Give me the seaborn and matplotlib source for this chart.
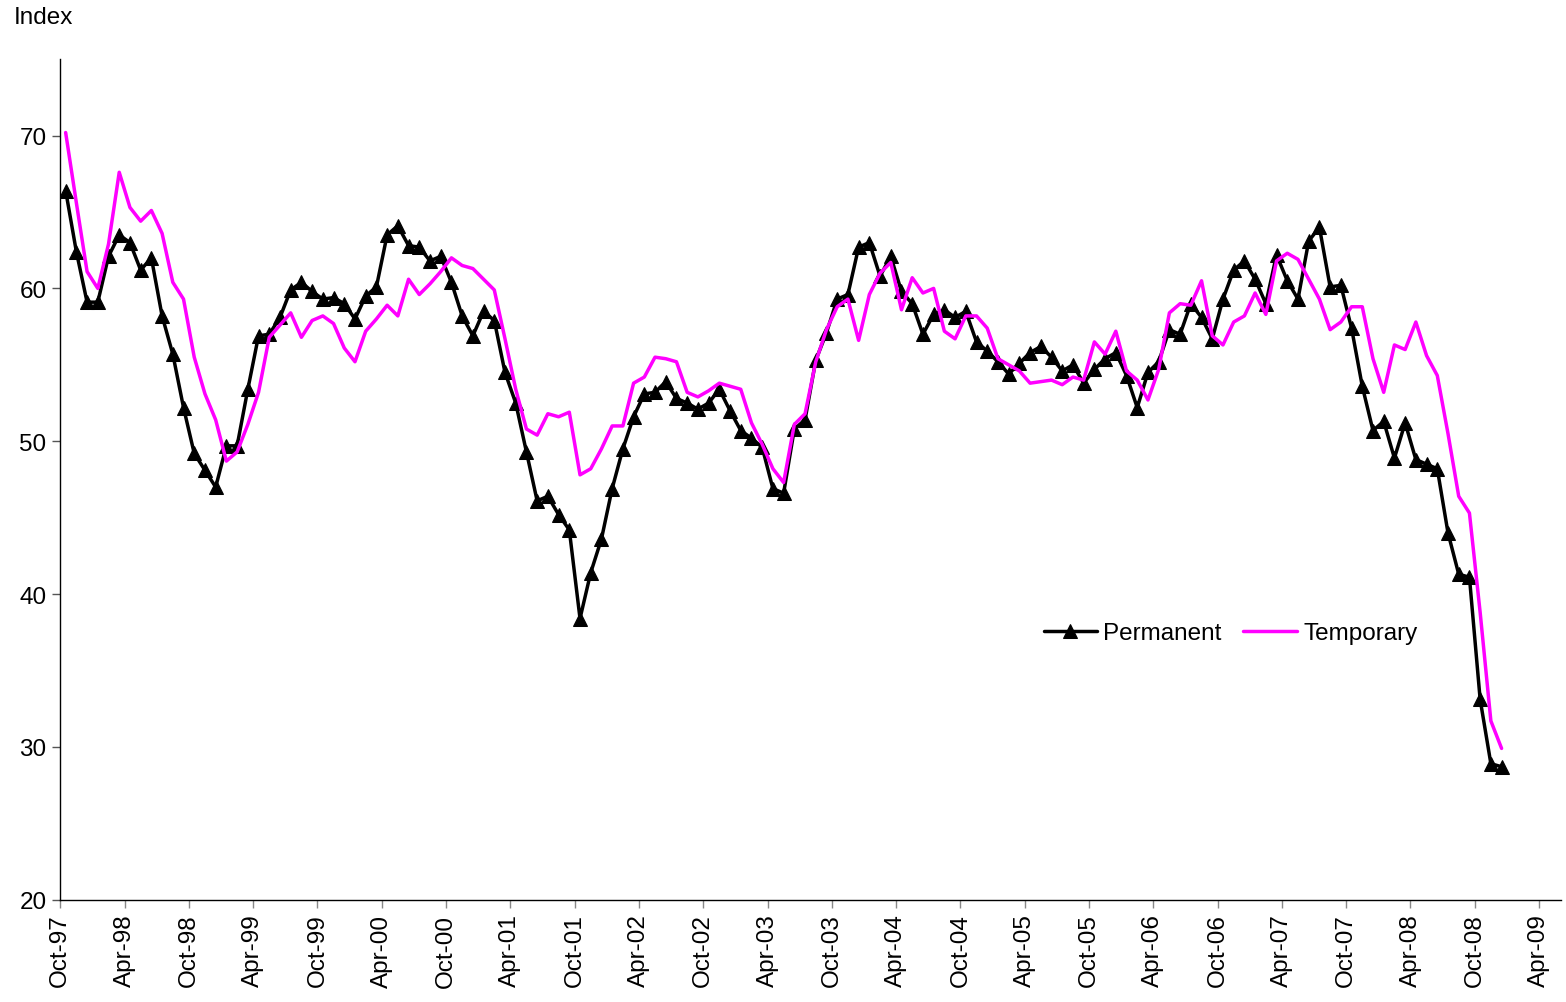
import numpy as np
import pandas as pd
import matplotlib
matplotlib.use("Agg")
import matplotlib.pyplot as plt
import seaborn as sns

# ---- data (monthly, Oct-97 .. Dec-08) ----
start_month = "1997-10"
permanent = [
    66.4, 62.4, 59.1, 59.1, 62.1, 63.5, 63.0, 61.2, 62.0, 58.2, 55.7, 52.2,
    49.2, 48.1, 47.0, 49.7, 49.7, 53.4, 56.9, 57.0, 58.1, 59.9, 60.4, 59.8,
    59.3, 59.4, 59.0, 58.0, 59.5, 60.1, 63.5, 64.1, 62.8, 62.7, 61.8, 62.1,
    60.4, 58.2, 56.9, 58.5, 57.9, 54.5, 52.5, 49.3, 46.1, 46.4, 45.2, 44.2,
    38.4, 41.4, 43.6, 46.9, 49.5, 51.6, 53.1, 53.2, 53.9, 52.8, 52.5, 52.1,
    52.5, 53.4, 52.0, 50.7, 50.2, 49.6, 46.9, 46.6, 50.8, 51.4, 55.3, 57.1,
    59.3, 59.6, 62.7, 63.0, 60.8, 62.1, 59.8, 59.0, 57.0, 58.3, 58.6, 58.1,
    58.5, 56.5, 55.9, 55.2, 54.4, 55.1, 55.8, 56.2, 55.5, 54.6, 55.0, 53.8,
    54.7, 55.4, 55.8, 54.3, 52.2, 54.5, 55.2, 57.3, 57.0, 59.0, 58.1, 56.7,
    59.3, 61.2, 61.8, 60.6, 59.0, 62.2, 60.5, 59.3, 63.1, 64.0, 60.1, 60.2,
    57.4, 53.6, 50.7, 51.3, 48.9, 51.2, 48.8, 48.5, 48.2, 44.0, 41.3, 41.1,
    33.1, 28.9, 28.7,
]
temporary = [
    70.2, 65.6, 61.1, 60.0, 62.9, 67.6, 65.3, 64.4, 65.1, 63.6, 60.4, 59.3,
    55.5, 53.1, 51.4, 48.7, 49.3, 51.1, 53.2, 56.8, 57.6, 58.4, 56.8, 57.9,
    58.2, 57.7, 56.1, 55.2, 57.2, 58.0, 58.9, 58.2, 60.6, 59.6, 60.3, 61.1,
    62.0, 61.5, 61.3, 60.6, 59.9, 56.7, 53.4, 50.8, 50.4, 51.8, 51.6, 51.9,
    47.8, 48.2, 49.5, 51.0, 51.0, 53.8, 54.2, 55.5, 55.4, 55.2, 53.2, 52.9,
    53.3, 53.8, 53.6, 53.4, 51.2, 49.8, 48.2, 47.3, 51.1, 51.8, 55.2, 57.3,
    58.8, 59.3, 56.6, 59.6, 61.0, 61.7, 58.6, 60.7, 59.7, 60.0, 57.2, 56.7,
    58.2, 58.2, 57.4, 55.4, 55.0, 54.6, 53.8, 53.9, 54.0, 53.7, 54.2, 54.0,
    56.5, 55.7, 57.2, 54.6, 54.0, 52.7, 54.7, 58.4, 59.0, 58.9, 60.5, 56.9,
    56.3, 57.8, 58.2, 59.7, 58.3, 61.8, 62.3, 61.9, 60.6, 59.3, 57.3, 57.8,
    58.8, 58.8, 55.4, 53.2, 56.3, 56.0, 57.8, 55.6, 54.3, 50.5, 46.4, 45.3,
    38.8, 31.7, 29.9,
]
series_names = ["Permanent", "Temporary"]
y_ticks = [20, 30, 40, 50, 60, 70]
y_label = "Index"

# ---- frame ----
n = len(permanent)
pos = np.arange(n) + 0.5  # category centre
df = pd.DataFrame({"pos": pos, "Permanent": permanent, "Temporary": temporary})

tick_pos = np.arange(0, 139, 6)
tick_labels = pd.date_range(start_month, periods=len(tick_pos), freq="6MS").strftime("%b-%y")

sns.set_style("ticks")
plt.rcParams["font.family"] = ["Liberation Sans", "DejaVu Sans"]
plt.rcParams["text.color"] = "black"
plt.rcParams["xtick.color"] = "black"
plt.rcParams["ytick.color"] = "black"

FS = 17.5

fig = plt.figure(figsize=(15.66, 10.03), dpi=100)
ax = fig.add_axes([0.0385, 0.102, 0.958, 0.838])

sns.lineplot(data=df, x="pos", y="Permanent", ax=ax, color="black", linewidth=2.5,
             marker="^", markersize=10.5, markeredgecolor="black", markerfacecolor="black",
             label=series_names[0])
sns.lineplot(data=df, x="pos", y="Temporary", ax=ax, color="#FF00FF", linewidth=2.5,
             label=series_names[1])

ax.set_xlim(0, 140)
ax.set_ylim(20, 75)
ax.set_yticks(y_ticks)
ax.set_xticks(tick_pos)
ax.set_xticklabels(tick_labels, rotation=90, fontsize=FS)
ax.tick_params(axis="y", labelsize=FS, length=6, width=1, color="#555555",
               labelcolor="black", pad=4)
ax.tick_params(axis="x", length=6, width=1, color="#888888", labelcolor="black", pad=4)
ax.set_xlabel("")
ax.set_ylabel("")
for s in ["top", "right"]:
    ax.spines[s].set_visible(False)
for s in ["left", "bottom"]:
    ax.spines[s].set_color("black")
    ax.spines[s].set_linewidth(1.0)

leg = ax.legend(loc="center", bbox_to_anchor=(0.78, 0.317), ncol=2, frameon=False,
                fontsize=FS, handlelength=2.2, handletextpad=0.25, columnspacing=0.9)
for t in leg.get_texts():
    t.set_color("black")

fig.text(0.009, 0.982, y_label, fontsize=FS, va="center", ha="left", color="black")

fig.savefig("out.png", dpi=100)
